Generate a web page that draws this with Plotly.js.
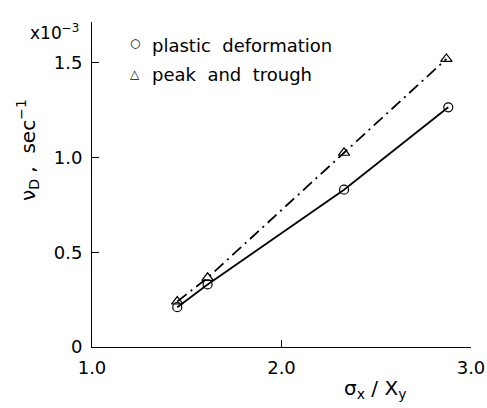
<!DOCTYPE html>
<html>
<head>
<meta charset="utf-8">
<script src="https://cdn.plot.ly/plotly-3.0.1.min.js"></script>
<style>html,body{margin:0;padding:0;background:#fff}#chart{width:487px;height:408px}</style>
</head>
<body>
<div id="chart"></div>
<script>
// Data
const stressRatioPlastic = [1.45, 1.61, 2.33, 2.88];
const freqPlastic = [0.21, 0.33, 0.83, 1.265];
const stressRatioPeak = [1.45, 1.61, 2.33, 2.87];
const freqPeak = [0.24, 0.365, 1.025, 1.52];
const seriesNames = ["plastic  deformation", "peak  and  trough"];
const xTickVals = [1.0, 2.0, 3.0];
const xTickText = ["1.0", "2.0", "3.0"];
const yTickVals = [0, 0.5, 1.0, 1.5];
const yTickText = ["0", "0.5", "1.0", "1.5"];

const FONT = "DejaVu Sans, sans-serif";

const traces = [
  {
    x: stressRatioPlastic, y: freqPlastic, name: seriesNames[0],
    mode: "lines+markers", type: "scatter",
    line: {color: "#000", width: 1.8, dash: "solid"},
    marker: {symbol: "circle-open", size: 9, color: "#000", line: {width: 1.2, color: "#000"}}
  },
  {
    x: stressRatioPeak, y: freqPeak, name: seriesNames[1],
    mode: "lines+markers", type: "scatter",
    line: {color: "#000", width: 1.8, dash: "12px,5px,2px,5px"},
    marker: {symbol: "triangle-up-open", size: 10, color: "#000", line: {width: 1.2, color: "#000"}}
  }
];

const layout = {
  width: 487, height: 408,
  margin: {l: 92, r: 16, t: 22, b: 61},
  paper_bgcolor: "#fff", plot_bgcolor: "#fff",
  showlegend: false,
  font: {family: FONT, color: "#000", size: 17},
  xaxis: {
    range: [1.0, 3.0], tickvals: xTickVals, ticktext: xTickText,
    ticks: "inside", ticklen: 7, tickwidth: 1, tickcolor: "#000",
    showline: true, linecolor: "#000", linewidth: 1, mirror: false,
    showgrid: false, zeroline: false, ticklabelstandoff: 4,
    tickfont: {family: FONT, size: 18, color: "#000"}
  },
  yaxis: {
    range: [0, 1.715], tickvals: yTickVals, ticktext: yTickText,
    ticks: "inside", ticklen: 7, tickwidth: 1, tickcolor: "#000",
    showline: true, linecolor: "#000", linewidth: 1, mirror: false,
    showgrid: false, zeroline: false, ticklabelstandoff: 5,
    tickfont: {family: FONT, size: 18, color: "#000"}
  },
  annotations: [
    {xref: "paper", yref: "paper", x: -0.03, y: 0.97, xanchor: "right", yanchor: "middle",
     text: "x10<sup>−3</sup>", showarrow: false, font: {family: FONT, size: 17, color: "#000"}},
    {xref: "paper", yref: "paper", x: -0.17, y: 0.605, xanchor: "center", yanchor: "middle", textangle: -90,
     text: "ν<sub>D</sub> ,  sec<sup>−1</sup>", showarrow: false, font: {family: FONT, size: 20, color: "#000"}},
    {xref: "paper", yref: "paper", x: 0.747, y: -0.13, xanchor: "center", yanchor: "middle",
     text: "σ<sub>x</sub> / X<sub>y</sub>", showarrow: false, font: {family: FONT, size: 20, color: "#000"}},
    {xref: "paper", yref: "paper", x: 0.113, y: 0.935, xanchor: "center", yanchor: "middle",
     text: "○", showarrow: false, font: {family: FONT, size: 12, color: "#000"}},
    {xref: "paper", yref: "paper", x: 0.153, y: 0.929, xanchor: "left", yanchor: "middle",
     text: seriesNames[0], showarrow: false, font: {family: FONT, size: 18, color: "#000"}},
    {xref: "paper", yref: "paper", x: 0.113, y: 0.84, xanchor: "center", yanchor: "middle",
     text: "△", showarrow: false, font: {family: FONT, size: 12, color: "#000"}},
    {xref: "paper", yref: "paper", x: 0.153, y: 0.837, xanchor: "left", yanchor: "middle",
     text: seriesNames[1], showarrow: false, font: {family: FONT, size: 18, color: "#000"}}
  ]
};

Plotly.newPlot("chart", traces, layout, {displayModeBar: false, staticPlot: true});
</script>
</body>
</html>
